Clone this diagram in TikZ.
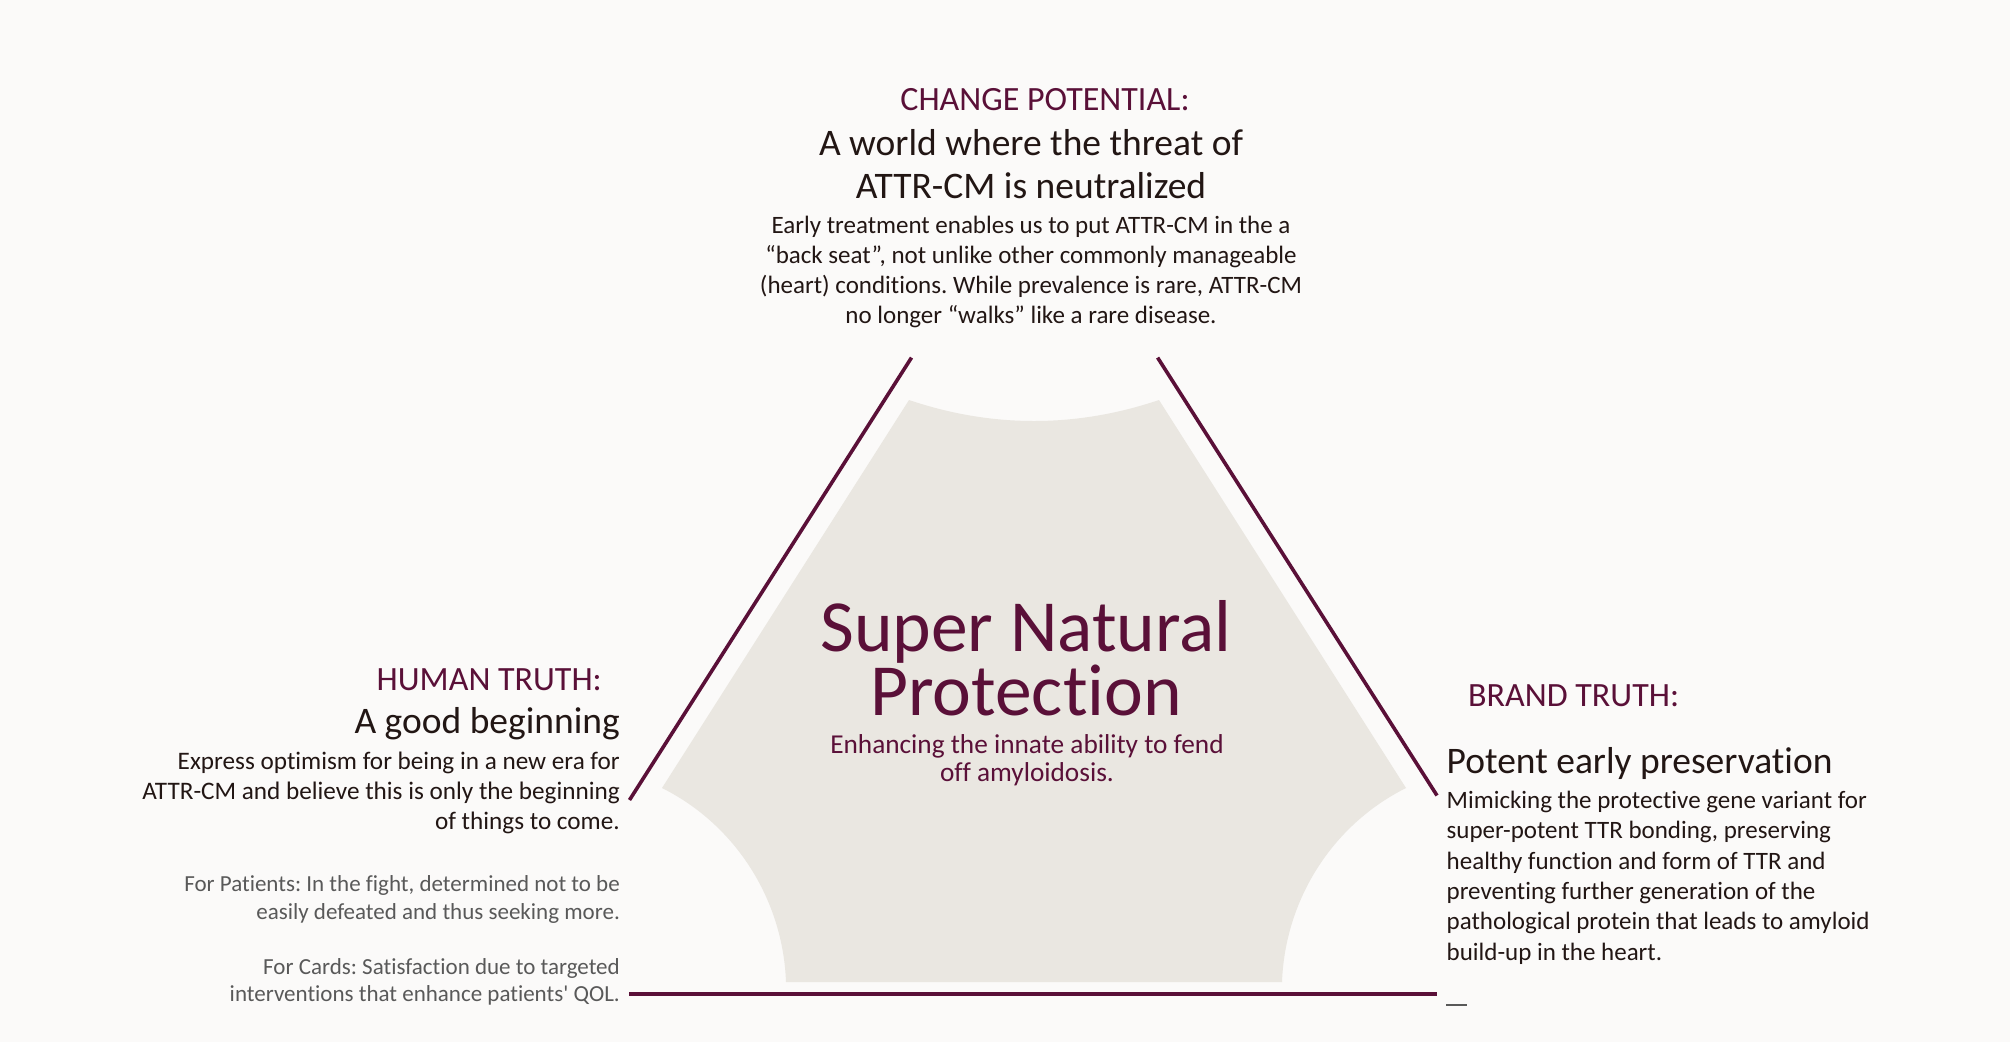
\documentclass[tikz,border=0pt]{standalone}
\usepackage{fontspec}
\setmainfont{Carlito}[Ligatures={TeXReset,NoCommon}]
\frenchspacing
\definecolor{bgcol}{HTML}{FBFAF9}
\definecolor{shapecol}{HTML}{EAE7E1}
\definecolor{plum}{HTML}{5A1038}
\definecolor{inkcol}{HTML}{221614}
\definecolor{greytext}{HTML}{595959}
\newcommand\myfs[2]{\fontsize{#1}{#2}\selectfont}
\tikzset{
  frame/.style={draw=plum, line width=3.6pt, line cap=butt},
  label/.style={inner sep=0pt, text=plum, font=\myfs{34}{40}},
  heading/.style={inner sep=0pt, text=inkcol, font=\myfs{37.5}{43.3}},
  bodytext/.style={inner sep=0pt, text=inkcol, font=\myfs{25}{29.8}},
  greybody/.style={inner sep=0pt, text=greytext, font=\myfs{23}{27.5}},
}
\begin{document}
\frenchspacing
\begin{tikzpicture}[x=1pt,y=-1pt]
\useasboundingbox (0,0) rectangle (2010,1042);
\fill[bgcol] (0,0) rectangle (2010,1042);

% central grey shape
\fill[shapecol] (909,400) .. controls (992,428) and (1076,428) .. (1159,400)
  -- (1406,788) .. controls (1332,825) and (1285,900) .. (1282,982)
  -- (786,982) .. controls (783,900) and (736,825) .. (662,788) -- cycle;

% frame lines
\coordinate (lt) at (911.5,357.6);
\coordinate (lb) at (629.5,800);
\coordinate (rt) at (1157.6,357.6);
\coordinate (rb) at (1437,795.5);
\coordinate (bl) at (629,994);
\coordinate (br) at (1437,994);
\coordinate (dl) at (1446,1005);
\coordinate (dr) at (1467,1005);
\draw[frame] (lb) -- (lt);
\draw[frame] (rt) -- (rb);
\draw[frame, line width=4.2pt] (bl) -- (br);
\draw[greytext, line width=2.6pt] (dl) -- (dr);

% top block (multi-line nodes are anchored on their last baseline)
\node[label, anchor=base] (cplabel) at (1045,110) {CHANGE POTENTIAL:};
\node[heading, anchor=base, align=center] (cphead) at (1031,198.3)
  {A world where the threat of\\ATTR-CM is neutralized};
\node[bodytext, anchor=base, align=center] (cpbody) at (1031,323.3)
  {Early treatment enables us to put ATTR-CM in the a\\
   “back seat”, not unlike other commonly manageable\\
   (heart) conditions. While prevalence is rare, ATTR-CM\\
   no longer “walks” like a rare disease.};

% centre
\node[inner sep=0pt, text=plum, font=\myfs{73.5}{63.3}, anchor=base, align=center] (core) at (1026,715)
  {Super Natural\\Protection};
\node[inner sep=0pt, text=plum, font=\myfs{27.3}{28.4}, anchor=base, align=center] (coresub) at (1027,781.7)
  {Enhancing the innate ability to fend\\off amyloidosis.};

% left block
\node[label, anchor=base east] (htlabel) at (602,690) {HUMAN TRUTH:};
\node[heading, anchor=base east] (hthead) at (620,733) {A good beginning};
\node[bodytext, anchor=base east, align=right, font=\myfs{25.2}{30}] (htbody) at (620,829.3)
  {Express optimism for being in a new era for\\
   ATTR-CM and believe this is only the beginning\\
   of things to come.};
\node[greybody, anchor=base east, align=right] (htpat) at (620,919.3)
  {For Patients: In the fight, determined not to be\\
   easily defeated and thus seeking more.};
\node[greybody, anchor=base east, align=right] (htcard) at (620,1001.7)
  {For Cards: Satisfaction due to targeted\\
   interventions that enhance patients' QOL.};

% right block
\node[label, anchor=base west] (btlabel) at (1468,706.7) {BRAND TRUTH:};
\node[heading, anchor=base west] (bthead) at (1446.5,773.3) {Potent early preservation};
\node[bodytext, anchor=base west, align=left, font=\myfs{25}{30.3}] (btbody) at (1446.5,960)
  {Mimicking the protective gene variant for\\
   super-potent TTR bonding, preserving\\
   healthy function and form of TTR and\\
   preventing further generation of the\\
   pathological protein that leads to amyloid\\
   build-up in the heart.};
\end{tikzpicture}
\end{document}
